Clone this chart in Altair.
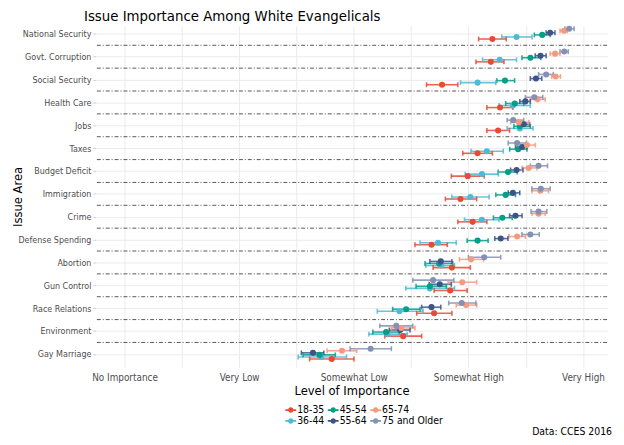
import altair as alt
import pandas as pd
import json

issues = ["National Security", "Govt. Corruption", "Social Security", "Health Care", "Jobs",
          "Taxes", "Budget Deficit", "Immigration", "Crime", "Defense Spending", "Abortion",
          "Gun Control", "Race Relations", "Environment", "Gay Marriage"]
groups = ["18-35", "36-44", "45-54", "55-64", "65-74", "75 and Older"]
colors = ["#E64B35", "#4DBBD5", "#00A087", "#3C5488", "#F39B7F", "#8491B4"]
levels = ["No Importance", "Very Low", "Somewhat Low", "Somewhat High", "Very High"]

mean_18_35 = [4.209, 4.196, 3.770, 4.276, 4.259, 4.080, 3.994, 3.931, 4.037, 3.678, 3.856, 3.841, 3.701, 3.431, 2.808]
lo_18_35 = [4.089, 4.066, 3.635, 4.161, 4.161, 3.951, 3.851, 3.799, 3.908, 3.534, 3.692, 3.701, 3.549, 3.270, 2.615]
hi_18_35 = [4.330, 4.310, 3.908, 4.388, 4.359, 4.209, 4.138, 4.072, 4.161, 3.816, 4.017, 3.989, 3.856, 3.592, 3.002]

mean_36_44 = [4.420, 4.273, 4.080, 4.388, 4.448, 4.161, 4.118, 4.017, 4.118, 3.735, 3.764, 3.664, 3.399, 3.293, 2.716]
lo_36_44 = [4.291, 4.123, 3.931, 4.267, 4.338, 4.023, 3.972, 3.856, 3.966, 3.578, 3.629, 3.454, 3.205, 3.132, 2.515]
hi_36_44 = [4.555, 4.420, 4.239, 4.540, 4.563, 4.304, 4.261, 4.181, 4.267, 3.894, 3.879, 3.879, 3.605, 3.466, 2.937]

mean_45_54 = [4.644, 4.541, 4.319, 4.405, 4.448, 4.434, 4.345, 4.325, 4.296, 4.080, 3.744, 3.664, 3.457, 3.282, 2.701]
lo_45_54 = [4.575, 4.467, 4.247, 4.325, 4.397, 4.360, 4.259, 4.239, 4.218, 3.989, 3.621, 3.543, 3.339, 3.166, 2.558]
hi_45_54 = [4.713, 4.631, 4.403, 4.483, 4.540, 4.511, 4.425, 4.411, 4.382, 4.172, 3.864, 3.808, 3.578, 3.397, 2.839]

mean_55_64 = [4.713, 4.629, 4.589, 4.497, 4.483, 4.468, 4.420, 4.388, 4.411, 4.282, 3.759, 3.750, 3.678, 3.405, 2.644]
lo_55_64 = [4.678, 4.583, 4.540, 4.448, 4.431, 4.411, 4.368, 4.347, 4.359, 4.230, 3.664, 3.658, 3.592, 3.310, 2.543]
hi_55_64 = [4.755, 4.678, 4.640, 4.540, 4.534, 4.511, 4.476, 4.448, 4.468, 4.345, 3.856, 3.851, 3.759, 3.491, 2.739]

mean_65_74 = [4.834, 4.756, 4.761, 4.603, 4.440, 4.511, 4.526, 4.627, 4.612, 4.425, 4.023, 3.946, 3.980, 3.414, 2.897]
lo_65_74 = [4.799, 4.713, 4.726, 4.540, 4.368, 4.459, 4.468, 4.554, 4.554, 4.353, 3.922, 3.822, 3.894, 3.328, 2.767]
hi_65_74 = [4.862, 4.799, 4.803, 4.670, 4.526, 4.584, 4.597, 4.698, 4.670, 4.498, 4.132, 4.072, 4.072, 3.534, 3.026]

mean_75 = [4.879, 4.836, 4.678, 4.575, 4.391, 4.425, 4.612, 4.632, 4.612, 4.540, 4.138, 3.692, 3.942, 3.371, 3.147]
lo_75 = [4.842, 4.799, 4.612, 4.497, 4.338, 4.347, 4.540, 4.554, 4.546, 4.467, 4.000, 3.515, 3.828, 3.227, 2.968]
hi_75 = [4.922, 4.871, 4.741, 4.649, 4.483, 4.506, 4.690, 4.713, 4.684, 4.618, 4.282, 3.873, 4.066, 3.515, 3.328]

series = [
    (mean_18_35, lo_18_35, hi_18_35),
    (mean_36_44, lo_36_44, hi_36_44),
    (mean_45_54, lo_45_54, hi_45_54),
    (mean_55_64, lo_55_64, hi_55_64),
    (mean_65_74, lo_65_74, hi_65_74),
    (mean_75, lo_75, hi_75),
]

rows = []
for gi, (g, (m, lo, hi)) in enumerate(zip(groups, series)):
    for ii, issue in enumerate(issues):
        rows.append({"issue": issue, "idx": ii, "gi": gi, "group": g,
                     "mean": m[ii], "lo": lo[ii], "hi": hi[ii]})
df = pd.DataFrame(rows)

FONT = "DejaVu Sans Condensed, Liberation Sans Narrow, sans-serif"

# legend order filled column-wise like the reference
leg_order = [groups[0], groups[2], groups[4], groups[1], groups[3], groups[5]]
leg_colors = [colors[groups.index(g)] for g in leg_order]

issue_expr = json.dumps(issues) + "[datum.value]"
level_expr = "datum.value % 1 == 0 ? " + json.dumps(levels) + "[datum.value - 1] : ''"

xscale = alt.Scale(domain=[0.75, 5.21], nice=False, zero=False)
yscale = alt.Scale(domain=[-0.36, 14.58], reverse=True, nice=False, zero=False)

xaxis = alt.Axis(values=[1, 1.5, 2, 2.5, 3, 3.5, 4, 4.5, 5], labelExpr=level_expr,
                 title="Level of Importance", grid=True, ticks=False, domain=False,
                 labelFontSize=10, labelColor="#4d4d4d", titleFontSize=13,
                 titleFontWeight="normal", titleColor="#000000", labelPadding=6,
                 gridColor="#ebebeb", titlePadding=2)
yaxis = alt.Axis(values=list(range(len(issues))), labelExpr=issue_expr, title="Issue Area",
                 grid=True, ticks=True, tickColor="#cccccc", tickSize=3, domain=False,
                 labelFontSize=9, labelColor="#4d4d4d", titleFontSize=13,
                 titleFontWeight="normal", titleColor="#000000", gridColor="#ebebeb",
                 labelPadding=2, titleX=-79, titleBaseline="middle", titleAlign="center")

color = alt.Color("group:N", scale=alt.Scale(domain=leg_order, range=leg_colors),
                  legend=alt.Legend(title=None, orient="none", legendX=192, legendY=384,
                                    direction="horizontal",
                                    columns=3, columnPadding=3, rowPadding=0,
                                    symbolType="M -1 -0.15 H 1 V 0.15 H -1 Z M 0.5 0 A 0.5 0.5 0 1 1 -0.5 0 A 0.5 0.5 0 1 1 0.5 0 Z",
                                    symbolSize=120, symbolStrokeWidth=0, symbolOpacity=1,
                                    labelFontSize=10.5, labelColor="#000000",
                                    labelOffset=1))

base = alt.Chart(df).transform_calculate(
    ypos="datum.idx + (2.5 - datum.gi) * 0.09"
)

sep_df = pd.DataFrame({"b": [i - 0.5 for i in range(1, len(issues))]})
seps = alt.Chart(sep_df).mark_rule(color="#555555", strokeWidth=1, strokeDash=[4, 2, 1, 2]).encode(
    y=alt.Y("b:Q", scale=yscale, axis=yaxis)
)

bars = base.mark_rule(strokeWidth=1.6, opacity=0.85).encode(
    x=alt.X("lo:Q", scale=xscale, axis=xaxis),
    x2="hi:Q",
    y=alt.Y("ypos:Q", scale=yscale, axis=yaxis),
    color=color,
)
cap_lo = base.mark_tick(orient="vertical", size=5, thickness=1.6, opacity=0.85).encode(
    x=alt.X("lo:Q", scale=xscale, axis=xaxis),
    y=alt.Y("ypos:Q", scale=yscale, axis=yaxis),
    color=color,
)
cap_hi = base.mark_tick(orient="vertical", size=5, thickness=1.6, opacity=0.85).encode(
    x=alt.X("hi:Q", scale=xscale, axis=xaxis),
    y=alt.Y("ypos:Q", scale=yscale, axis=yaxis),
    color=color,
)
pts = base.mark_circle(size=38, opacity=1).encode(
    x=alt.X("mean:Q", scale=xscale, axis=xaxis),
    y=alt.Y("ypos:Q", scale=yscale, axis=yaxis),
    color=color,
)

caption = alt.Chart(pd.DataFrame({"t": ["Data: CCES 2016"]})).mark_text(
    align="right", baseline="middle", fontSize=10.5, font=FONT, color="#000000"
).encode(text="t:N", x=alt.value(523), y=alt.value(412))

chart = alt.layer(seps, bars, cap_lo, cap_hi, pts, caption).properties(
    width=518, height=346,
    title=alt.TitleParams("Issue Importance Among White Evangelicals", anchor="start",
                          frame="group", dx=-12,
                          fontSize=15, fontWeight="normal", font=FONT, color="#000000",
                          offset=2),
    autosize=alt.AutoSizeParams(type="none"),
    padding={"left": 89, "top": 15, "right": 9, "bottom": 74},
).configure(font=FONT).configure_view(stroke=None)

chart.save("out.html", embed_options={"renderer": "svg", "actions": False})
